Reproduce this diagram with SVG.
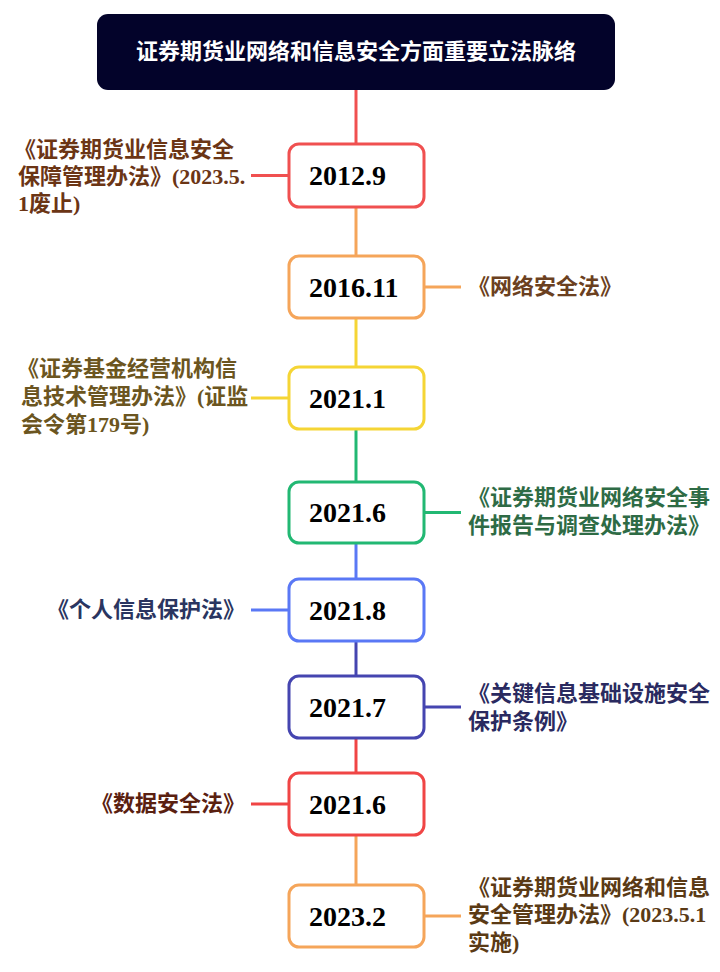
<svg xmlns="http://www.w3.org/2000/svg" width="720" height="972" viewBox="0 0 720 972">
<style>
.bg{fill:#ffffff}
.box{fill:#ffffff;stroke-width:3}
.date{font-family:"Liberation Serif","Noto Sans CJK SC",serif;font-weight:bold;font-size:28px;fill:#000000}
.lbl{font-family:"Liberation Serif","Noto Sans CJK SC",serif;font-weight:bold;font-size:22px}
.title{font-family:"Liberation Serif","Noto Sans CJK SC",serif;font-weight:bold;font-size:22px;fill:#ffffff}
.ln{stroke-width:3;fill:none}
</style>
<rect class="bg" x="0" y="0" width="720" height="972"/>
<g id="connectors">
<line class="ln" x1="356" y1="90" x2="356" y2="144" stroke="#f05050"/>
<line class="ln" x1="356" y1="207" x2="356" y2="256" stroke="#f5a55a"/>
<line class="ln" x1="356" y1="318" x2="356" y2="367" stroke="#f5d535"/>
<line class="ln" x1="356" y1="429" x2="356" y2="482" stroke="#22b873"/>
<line class="ln" x1="356" y1="543" x2="356" y2="579" stroke="#5a78f5"/>
<line class="ln" x1="356" y1="641" x2="356" y2="676" stroke="#4545b0"/>
<line class="ln" x1="356" y1="738" x2="356" y2="773" stroke="#f04545"/>
<line class="ln" x1="356" y1="835" x2="356" y2="885" stroke="#f5a55a"/>
<line class="ln" x1="251" y1="175.5" x2="289" y2="175.5" stroke="#f05050"/>
<line class="ln" x1="424" y1="287" x2="461" y2="287" stroke="#f5a55a"/>
<line class="ln" x1="251" y1="398" x2="289" y2="398" stroke="#f5d535"/>
<line class="ln" x1="424" y1="512.5" x2="461" y2="512.5" stroke="#22b873"/>
<line class="ln" x1="251" y1="610" x2="289" y2="610" stroke="#5a78f5"/>
<line class="ln" x1="424" y1="707" x2="461" y2="707" stroke="#4545b0"/>
<line class="ln" x1="251" y1="804" x2="289" y2="804" stroke="#f04545"/>
<line class="ln" x1="424" y1="916" x2="461" y2="916" stroke="#f5a55a"/>
</g>
<g id="title">
<rect x="97" y="14" width="518" height="76" rx="11" fill="#03032a"/>
<text class="title" x="356" y="59" text-anchor="middle">证券期货业网络和信息安全方面重要立法脉络</text>
</g>
<g id="n2012-9">
<rect class="box" x="289" y="144" width="135" height="63" rx="10" stroke="#f05050"/>
<text class="date" x="309" y="185">2012.9</text>
<text class="lbl" fill="#6b3515"><tspan x="14" y="157">《证券期货业信息安全</tspan><tspan x="18" y="184">保障管理办法》(2023.5.</tspan><tspan x="18" y="211">1废止)</tspan></text>
</g>
<g id="n2016-11">
<rect class="box" x="289" y="256" width="135" height="62" rx="10" stroke="#f5a55a"/>
<text class="date" x="309" y="297">2016.11</text>
<text class="lbl" fill="#6b4020" x="468" y="294">《网络安全法》</text>
</g>
<g id="n2021-1">
<rect class="box" x="289" y="367" width="135" height="62" rx="10" stroke="#f5d535"/>
<text class="date" x="309" y="408">2021.1</text>
<text class="lbl" fill="#6b5520"><tspan x="17" y="376">《证券基金经营机构信</tspan><tspan x="21" y="404">息技术管理办法》(证监</tspan><tspan x="21" y="432">会令第179号)</tspan></text>
</g>
<g id="n2021-6a">
<rect class="box" x="289" y="482" width="135" height="61" rx="10" stroke="#22b873"/>
<text class="date" x="309" y="522">2021.6</text>
<text class="lbl" fill="#2e6b45"><tspan x="468" y="505">《证券期货业网络安全事</tspan><tspan x="468" y="533">件报告与调查处理办法》</tspan></text>
</g>
<g id="n2021-8">
<rect class="box" x="289" y="579" width="135" height="62" rx="10" stroke="#5a78f5"/>
<text class="date" x="309" y="620">2021.8</text>
<text class="lbl" fill="#2a3560" x="245" y="617" text-anchor="end">《个人信息保护法》</text>
</g>
<g id="n2021-7">
<rect class="box" x="289" y="676" width="135" height="62" rx="10" stroke="#4545b0"/>
<text class="date" x="309" y="717">2021.7</text>
<text class="lbl" fill="#2a2a60"><tspan x="468" y="701">《关键信息基础设施安全</tspan><tspan x="468" y="729">保护条例》</tspan></text>
</g>
<g id="n2021-6b">
<rect class="box" x="289" y="773" width="135" height="62" rx="10" stroke="#f04545"/>
<text class="date" x="309" y="814">2021.6</text>
<text class="lbl" fill="#5a2010" x="245" y="811" text-anchor="end">《数据安全法》</text>
</g>
<g id="n2023-2">
<rect class="box" x="289" y="885" width="135" height="62" rx="10" stroke="#f5a55a"/>
<text class="date" x="309" y="926">2023.2</text>
<text class="lbl" fill="#5a3a15"><tspan x="468" y="895">《证券期货业网络和信息</tspan><tspan x="468" y="922">安全管理办法》(2023.5.1</tspan><tspan x="468" y="950">实施)</tspan></text>
</g>
</svg>
